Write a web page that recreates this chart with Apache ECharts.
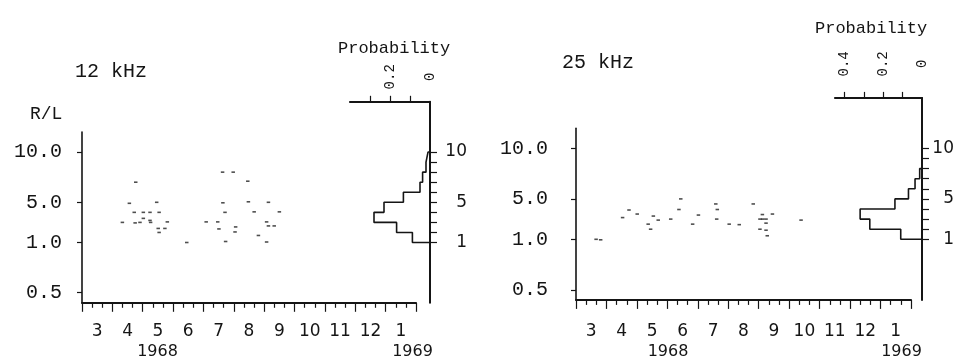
<!DOCTYPE html>
<html>
<head>
<meta charset="utf-8">
<script src="https://cdn.jsdelivr.net/npm/echarts@6/dist/echarts.min.js"></script>
<style>
  html, body { margin: 0; padding: 0; background: #ffffff; }
  #chart { width: 957px; height: 361px; }
</style>
</head>
<body>
<div id="chart"></div>
<script>
// Month of each R/L observation (3 = 1 March 1968, 13 = 1 January 1969)
const monthsA = [4.77, 4.56, 5.46, 4.72, 5.02, 5.24, 5.54, 4.33, 4.75, 4.91, 5.02, 5.24, 5.26,
                 5.51, 5.54, 5.73, 5.81, 6.45, 7.09, 7.47, 7.51, 7.63, 7.98, 8.46, 7.64, 7.71,
                 8.06, 8.04, 7.73, 8.48, 9.14, 8.67, 9.50, 9.08, 9.14, 9.33, 8.81, 9.08];
const ratioA  = [7.0, 4.9, 5.0, 4.0, 4.0, 4.0, 4.0, 3.0, 2.95, 3.0, 3.4, 3.2, 3.0,
                 2.4, 2.0, 2.4, 3.05, 1.0, 3.05, 3.05, 2.35, 8.0, 8.0, 7.1, 4.95, 4.0,
                 2.55, 2.05, 1.1, 5.05, 5.0, 4.05, 4.05, 3.05, 2.65, 2.65, 1.7, 1.05];

const monthsB = [3.66, 3.81, 4.53, 4.74, 5.01, 5.37, 5.45, 5.54, 5.70, 6.11, 6.38, 6.44, 6.83,
                 7.02, 7.59, 7.64, 7.62, 8.03, 8.36, 8.82, 9.12, 9.45, 9.04, 9.13, 9.24, 9.24,
                 9.04, 9.24, 9.28, 10.39];
const ratioB  = [1.0, 0.99, 3.15, 3.9, 3.5, 2.5, 2.0, 3.3, 2.9, 3.0, 3.95, 5.0, 2.5,
                 3.4, 4.5, 3.95, 3.0, 2.5, 2.45, 4.5, 3.45, 3.5, 3.0, 3.0, 3.0, 2.6,
                 2.0, 1.9, 1.35, 2.9];

// Probability histograms of R/L, unit-wide bins starting at 1
const binEdges = [1, 2, 3, 4, 5, 6, 7, 8, 9, 10];
const probA = [0.088, 0.167, 0.28, 0.23, 0.133, 0.05, 0.037, 0.02, 0.01];
const probB = [0.11, 0.27, 0.32, 0.14, 0.07, 0.036, 0.012];

// Tick labels
const monthTicks  = [3, 4, 5, 6, 7, 8, 9, 10, 11, 12, 13, 14];
const monthNames  = ['3', '4', '5', '6', '7', '8', '9', '10', '11', '12', '1'];
const ratioTicks  = [10, 5, 1, 0.5];
const histTicks   = [1, 2, 3, 4, 5, 6, 7, 8, 9, 10];
const histLabels  = [1, 5, 10];

// Below unity the ratio axis is compressed: L/R is laid out at one fifth scale.
function pos(v) { return v >= 1 ? v : 1 - 5 * (1 / v - 1); }
function unpos(p) { return p >= 1 ? p : 1 / (1 + (1 - p) / 5); }

function points(ms, rs) { return ms.map((m, i) => [m, pos(rs[i])]); }

function stepOutline(edges, probs) {
  const pts = [[0, edges[0]]];
  probs.forEach((p, i) => { pts.push([p, edges[i]], [p, edges[i + 1]]); });
  pts.push([0, edges[probs.length]]);
  return pts;
}

const INK = '#151515';
const MONO = '"Liberation Mono", "DejaVu Sans Mono", monospace';
const SANS = '"DejaVu Sans", sans-serif';

function scatterX(idx, margin) {
  return {
    type: 'value', gridIndex: idx, min: 3, max: 14, interval: 1,
    axisLine: { show: true, onZero: false, lineStyle: { color: INK, width: 2 } },
    axisTick: { show: true, length: 9, customValues: monthTicks, lineStyle: { color: INK, width: 1.2 } },
    minorTick: { show: true, splitNumber: 3, length: 5, lineStyle: { color: INK, width: 1.2 } },
    splitLine: { show: false },
    axisLabel: {
      customValues: monthTicks.slice(0, -1).map(m => m + 0.5),
      formatter: v => monthNames[Math.floor(v) - 3],
      margin: margin, color: INK, fontFamily: SANS, fontSize: 17
    }
  };
}

function scatterY(idx, margin) {
  return {
    type: 'value', gridIndex: idx, min: -5, max: 12,
    axisLine: { show: true, onZero: false, lineStyle: { color: INK, width: 1.6 } },
    axisTick: { show: true, length: 5, customValues: ratioTicks.map(pos), lineStyle: { color: INK, width: 1.2 } },
    splitLine: { show: false },
    axisLabel: {
      customValues: ratioTicks.map(pos),
      formatter: p => unpos(p).toFixed(1),
      margin: margin, color: INK, fontFamily: MONO, fontSize: 20
    }
  };
}

function histX(idx, max, ticks, labels, margin) {
  return {
    type: 'value', gridIndex: idx, position: 'top', inverse: true, min: 0, max: max,
    axisLine: { show: true, onZero: false, lineStyle: { color: INK, width: 2.2 } },
    axisTick: { show: true, length: 6, customValues: ticks, lineStyle: { color: INK, width: 1.2 } },
    splitLine: { show: false },
    axisLabel: {
      customValues: labels, rotate: -90, align: 'center', verticalAlign: 'middle',
      formatter: v => (v === 0 ? '0' : v.toFixed(1)),
      margin: margin, color: INK, fontFamily: MONO, fontSize: 14
    }
  };
}

function histY(idx, margin) {
  return {
    type: 'value', gridIndex: idx, position: 'right', min: -5, max: 15,
    axisLine: { show: true, onZero: false, lineStyle: { color: INK, width: 2 } },
    axisTick: { show: true, length: 7, customValues: histTicks, lineStyle: { color: INK, width: 1.2 } },
    splitLine: { show: false },
    axisLabel: {
      customValues: histLabels, align: 'right',
      margin: margin, color: INK, fontFamily: SANS, fontSize: 17
    }
  };
}

function dots(idx, data) {
  return {
    type: 'scatter', xAxisIndex: idx, yAxisIndex: idx, data: data,
    symbol: 'rect', symbolSize: [3.5, 1.6],
    itemStyle: { color: '#222' }, silent: true, animation: false
  };
}

function outline(idx, data) {
  return {
    type: 'line', xAxisIndex: idx, yAxisIndex: idx, data: data,
    symbol: 'none', lineStyle: { color: INK, width: 1.6 }, silent: true, animation: false
  };
}

function label(text, x, y, font, size, align) {
  return {
    type: 'text', left: x, top: y,
    style: { text: text, fill: INK, font: size + 'px ' + font, align: align || 'left', verticalAlign: 'middle' }
  };
}

const chart = echarts.init(document.getElementById('chart'), null, { renderer: 'canvas' });
chart.setOption({
  backgroundColor: '#ffffff',
  animation: false,
  grid: [
    { left: 82, top: 131.95, width: 334, height: 170.85 },
    { left: 350, top: 101.8, width: 80, height: 201 },
    { left: 576, top: 128.2, width: 335, height: 171.7 },
    { left: 835, top: 97.9, width: 89.5, height: 202 }
  ],
  xAxis: [
    scatterX(0, 20),
    histX(1, 0.4, [0.1, 0.2, 0.3], [0.2, 0], 25),
    scatterX(2, 23),
    histX(3, 0.45, [0.1, 0.2, 0.3, 0.4], [0.4, 0.2, 0], 34)
  ],
  yAxis: [
    scatterY(0, 20),
    histY(1, 37),
    scatterY(2, 28),
    histY(3, 32)
  ],
  series: [
    dots(0, points(monthsA, ratioA)),
    outline(1, stepOutline(binEdges, probA)),
    dots(2, points(monthsB, ratioB)),
    outline(3, stepOutline(binEdges, probB))
  ],
  graphic: [
    label('12 kHz', 75, 62, MONO, 20),
    label('R/L', 30, 105, MONO, 18),
    label('Probability', 338, 40, MONO, 17),
    label('25 kHz', 562, 53, MONO, 20),
    label('Probability', 815, 20, MONO, 17),
    { type: 'text', x: 157.5, y: 352, style: { text: '1968', fill: INK, font: '16px ' + SANS, align: 'center', verticalAlign: 'middle' } },
    { type: 'text', x: 412.5, y: 352, style: { text: '1969', fill: INK, font: '16px ' + SANS, align: 'center', verticalAlign: 'middle' } },
    { type: 'text', x: 668, y: 352, style: { text: '1968', fill: INK, font: '16px ' + SANS, align: 'center', verticalAlign: 'middle' } },
    { type: 'text', x: 901.5, y: 352, style: { text: '1969', fill: INK, font: '16px ' + SANS, align: 'center', verticalAlign: 'middle' } }
  ]
});
</script>
</body>
</html>
